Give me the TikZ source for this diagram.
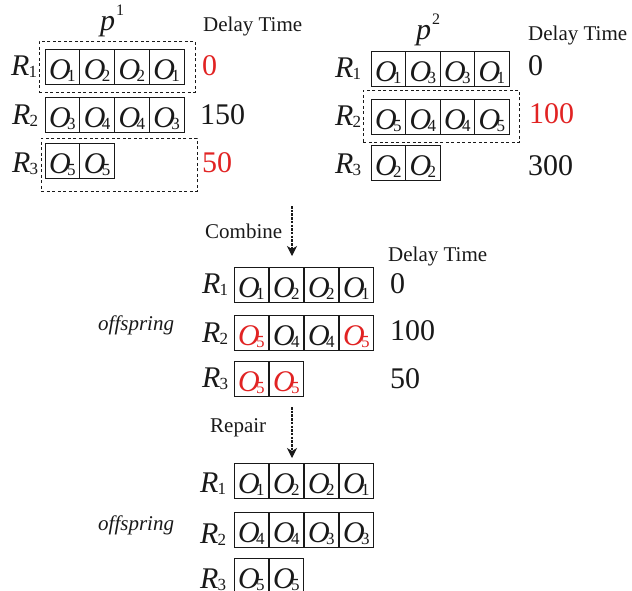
\documentclass[tikz,border=0pt]{standalone}
\usepackage{fontspec}
\setmainfont{Liberation Serif}
\usetikzlibrary{arrows.meta}
\definecolor{myred}{RGB}{225,35,35}
\definecolor{ink}{RGB}{25,25,25}
\newcommand{\Ocell}[2][ink]{{\color{#1}\fontsize{30}{30}\selectfont\itshape O\kern-3.5pt\raisebox{-1.5pt}{\fontsize{17}{17}\selectfont\upshape #2}}}
\newcommand{\Rlab}[1]{{\fontsize{30}{30}\selectfont\itshape R\kern-1pt\raisebox{-2pt}{\fontsize{17}{17}\selectfont\upshape #1}}}
\newcommand{\Plab}[1]{{\fontsize{30}{30}\selectfont\itshape p\kern1pt\raisebox{15pt}{\fontsize{16}{16}\selectfont\upshape #1}}}
\newcommand{\rowcells}[5]{%
  \foreach \c [count=\i] in {#5}
    \node[cellbox] (#1c\i) at ({#2+#4*(\i-1)},#3) {\c};%
}
\begin{document}
\begin{tikzpicture}[x=1pt,y=-1pt,
  cellbox/.style={draw=ink, line width=1pt, minimum width=34.75pt, minimum height=35pt,
    inner sep=0pt, outer sep=0pt, text height=28pt, text depth=2pt, anchor=north west},
  dashbox/.style={draw=ink, line width=0.9pt, dash pattern=on 3pt off 2.5pt, inner sep=0pt, anchor=north west},
  lbl/.style={anchor=base west, inner sep=0pt, text=ink},
  big/.style={lbl, font=\fontsize{30}{30}\selectfont},
  small/.style={lbl, font=\fontsize{21}{21}\selectfont},
  flow/.style={draw=ink, line width=1.1pt, dash pattern=on 2.5pt off 1.2pt,
    -{Stealth[length=10pt,width=10pt,inset=3pt]}}]
\clip (0,0) rectangle (632,590);
% ---------------- p1 ----------------
\node[lbl] (p1t) at (100,30) {\Plab{1}};
\node[small] (p1dt) at (203,31) {Delay Time};
\node[lbl] (p1R1) at (11,75) {\Rlab{1}};
\node[lbl] (p1R2) at (12,124) {\Rlab{2}};
\node[lbl] (p1R3) at (12,172) {\Rlab{3}};
\rowcells{p1a}{45}{49}{34.75}{{\Ocell{1}},{\Ocell{2}},{\Ocell{2}},{\Ocell{1}}}
\rowcells{p1b}{45}{97}{34.75}{{\Ocell{3}},{\Ocell{4}},{\Ocell{4}},{\Ocell{3}}}
\rowcells{p1c}{45}{143}{34.75}{{\Ocell{5}},{\Ocell{5}}}
\node[dashbox, minimum width=156pt, minimum height=51pt] (p1s1) at (39,41) {};
\node[dashbox, minimum width=156pt, minimum height=53pt] (p1s3) at (41,138) {};
\node[big, text=myred] (p1v1) at (202,75) {0};
\node[big] (p1v2) at (200,124) {150};
\node[big, text=myred] (p1v3) at (202,172) {50};
% ---------------- p2 ----------------
\node[lbl] (p2t) at (416,39) {\Plab{2}};
\node[small] (p2dt) at (528,40) {Delay Time};
\node[lbl] (p2R1) at (335,77) {\Rlab{1}};
\node[lbl] (p2R2) at (335,125) {\Rlab{2}};
\node[lbl] (p2R3) at (335,173) {\Rlab{3}};
\rowcells{p2a}{371}{51}{34.5}{{\Ocell{1}},{\Ocell{3}},{\Ocell{3}},{\Ocell{1}}}
\rowcells{p2b}{371}{99}{34.5}{{\Ocell{5}},{\Ocell{4}},{\Ocell{4}},{\Ocell{5}}}
\rowcells{p2c}{371}{145}{34.5}{{\Ocell{2}},{\Ocell{2}}}
\node[dashbox, minimum width=156pt, minimum height=52pt] (p2s2) at (363,90) {};
\node[big] (p2v1) at (528,75) {0};
\node[big, text=myred] (p2v2) at (529,123) {100};
\node[big] (p2v3) at (528,175) {300};
% ---------------- combine ----------------
\node[small] (comb) at (205,238) {Combine};
\coordinate (a1s) at (292,206);
\coordinate (a1e) at (292,256);
\draw[flow] (a1s) -- (a1e);
\node[small] (mdt) at (388,261) {Delay Time};
\node[small, font=\fontsize{21}{21}\selectfont\itshape] (moff) at (98,330) {offspring};
\node[lbl] (mR1) at (202,293) {\Rlab{1}};
\node[lbl] (mR2) at (202,342) {\Rlab{2}};
\node[lbl] (mR3) at (202,387) {\Rlab{3}};
\rowcells{ma}{234}{267}{35}{{\Ocell{1}},{\Ocell{2}},{\Ocell{2}},{\Ocell{1}}}
\rowcells{mb}{234}{315}{35}{{\Ocell[myred]{5}},{\Ocell{4}},{\Ocell{4}},{\Ocell[myred]{5}}}
\rowcells{mc}{234}{361}{35}{{\Ocell[myred]{5}},{\Ocell[myred]{5}}}
\node[big] (mv1) at (390,293) {0};
\node[big] (mv2) at (390,340) {100};
\node[big] (mv3) at (390,388) {50};
% ---------------- repair ----------------
\node[small] (rep) at (210,432) {Repair};
\coordinate (a2s) at (292,407);
\coordinate (a2e) at (292,458);
\draw[flow] (a2s) -- (a2e);
\node[small, font=\fontsize{21}{21}\selectfont\itshape] (roff) at (98,530) {offspring};
\node[lbl] (rR1) at (200,492) {\Rlab{1}};
\node[lbl] (rR2) at (200,543) {\Rlab{2}};
\node[lbl] (rR3) at (200,588) {\Rlab{3}};
\rowcells{ra}{234}{463}{35}{{\Ocell{1}},{\Ocell{2}},{\Ocell{2}},{\Ocell{1}}}
\rowcells{rb}{234}{512}{35}{{\Ocell{4}},{\Ocell{4}},{\Ocell{3}},{\Ocell{3}}}
\rowcells{rc}{234}{558}{35}{{\Ocell{5}},{\Ocell{5}}}
\end{tikzpicture}
\end{document}
